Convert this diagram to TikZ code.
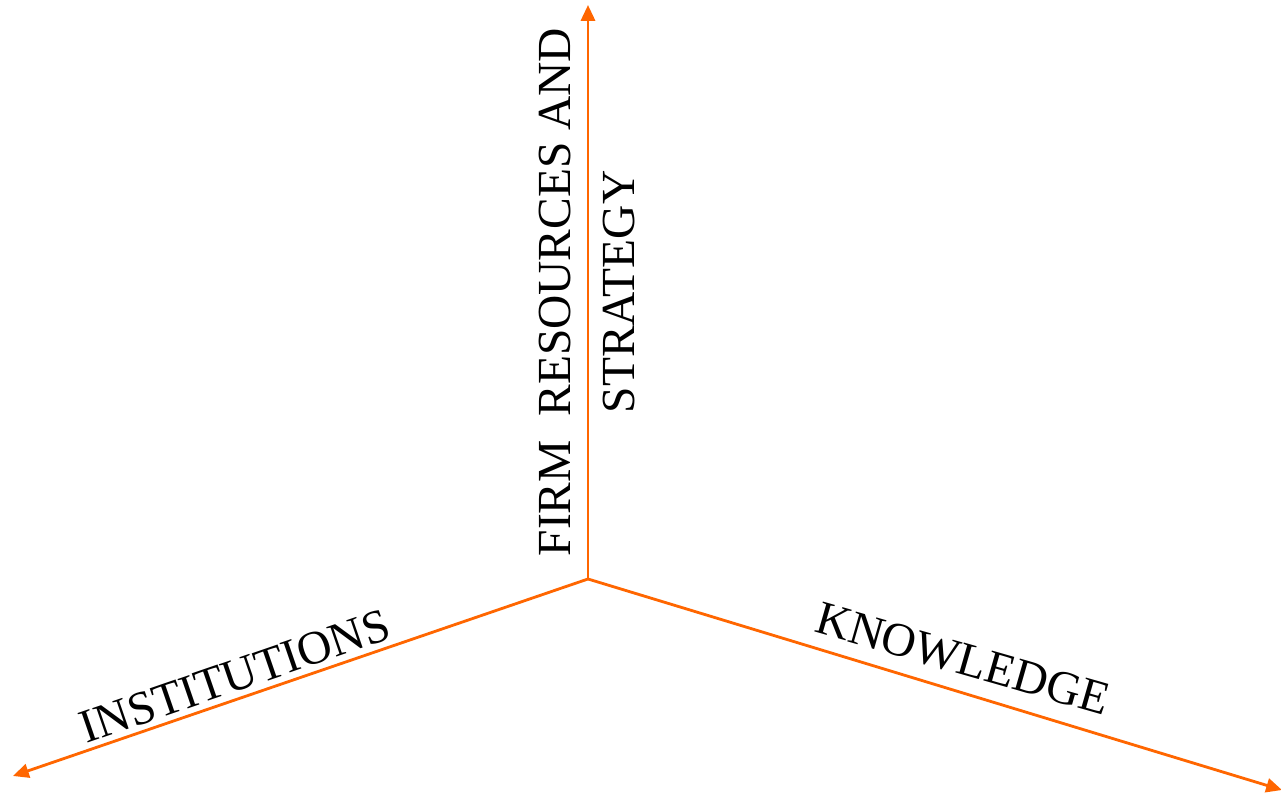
\documentclass[tikz,border=0pt]{standalone}
\usepackage{fontspec}
\setmainfont{Liberation Serif}
\usetikzlibrary{arrows.meta,positioning}
\definecolor{axisorange}{RGB}{255,102,0}

\begin{document}
\begin{tikzpicture}[
    axis/.style={draw=axisorange, line width=1.6pt,
                 -{Triangle[length=9pt,width=8pt]}},
    axislabel/.style={font=\fontsize{27}{36}\selectfont, align=center, inner sep=0pt}
]
    \useasboundingbox (0,0) rectangle (25.62,15.9);

    % the three axes meet in one point
    \coordinate (o) at (11.76,4.32);
    \coordinate (firm) at (11.76,15.8);
    \coordinate (inst) at (0.26,0.38);
    \coordinate (know) at (25.64,0.1);

    \draw[axis] (o) -- (firm);
    \draw[axis] (o) -- (inst);
    \draw[axis] (o) -- (know);

    \node[axislabel, rotate=90] (firmlabel) at (11.74,10.06) {FIRM\ \ RESOURCES AND\\STRATEGY};
    \node[axislabel, rotate=19] (instlabel) at (4.70,2.38) {INSTITUTIONS};
    \node[axislabel, rotate=-16] (knowlabel) at (19.26,2.72) {KNOWLEDGE};
\end{tikzpicture}
\end{document}
